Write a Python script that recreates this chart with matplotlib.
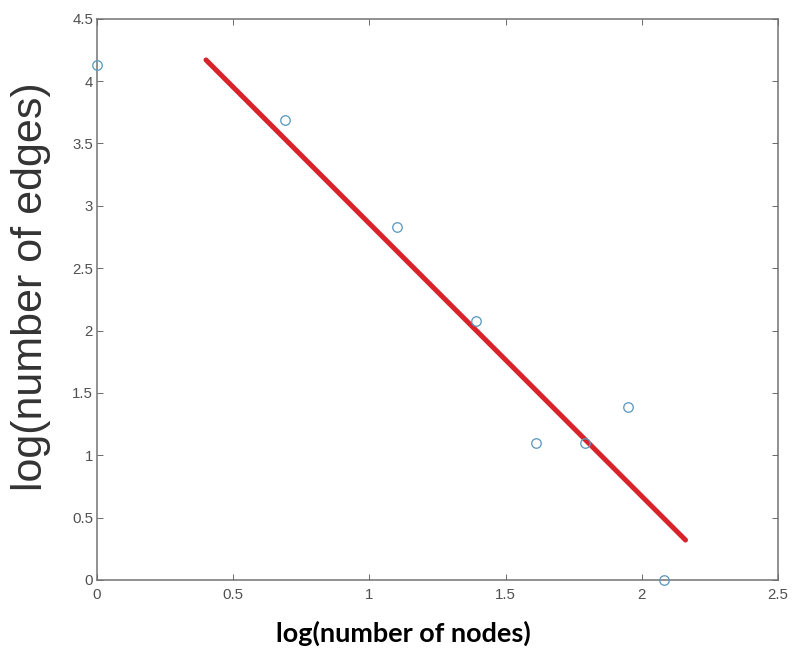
import matplotlib.pyplot as plt

# observed points (log nodes vs log edges)
log_nodes = [0.0, 0.69, 1.10, 1.39, 1.61, 1.79, 1.95, 2.08]
log_edges = [4.13, 3.69, 2.83, 2.08, 1.10, 1.10, 1.39, 0.0]

# fitted line end points
fit_x = [0.40, 2.16]
fit_y = [4.17, 0.32]

xticks = [0, 0.5, 1, 1.5, 2, 2.5]
yticks = [0, 0.5, 1, 1.5, 2, 2.5, 3, 3.5, 4, 4.5]

fig = plt.figure(figsize=(11, 9), dpi=72)
ax = fig.add_axes([0.1225, 0.105, 0.86, 0.866])

ax.plot(fit_x, fit_y, color='#d9232a', linewidth=5, solid_capstyle='round')
ax.plot(log_nodes, log_edges, linestyle='none', marker='o', markersize=9.5,
        markerfacecolor='none', markeredgecolor='#5a9ac0', markeredgewidth=1.3,
        clip_on=False, zorder=3)

ax.set_xlim(0, 2.5)
ax.set_ylim(0, 4.5)
ax.set_xticks(xticks)
ax.set_xticklabels([f'{t:g}' for t in xticks], family='Liberation Sans')
ax.set_yticks(yticks)
ax.set_yticklabels([f'{t:g}' for t in yticks], family='Liberation Sans')
ax.tick_params(direction='in', top=True, right=True, length=6, width=1,
               color='#6e6e6e', labelsize=15, labelcolor='#505050')
ax.tick_params(axis='x', pad=8)
ax.tick_params(axis='y', pad=4)
for s in ax.spines.values():
    s.set_color('#707070')
    s.set_linewidth(1.5)

fig.text(403 / 792, 1 - 633 / 648, 'log(number of nodes)', fontsize=27,
         fontweight='bold', family='Lato', color='black',
         ha='center', va='center')
fig.text(31 / 792, 1 - 287 / 648, 'log(number of edges)', fontsize=43,
         color='#333333', family='Liberation Sans', rotation=90,
         ha='center', va='center')

fig.savefig('out.png', dpi=72, facecolor='white')
